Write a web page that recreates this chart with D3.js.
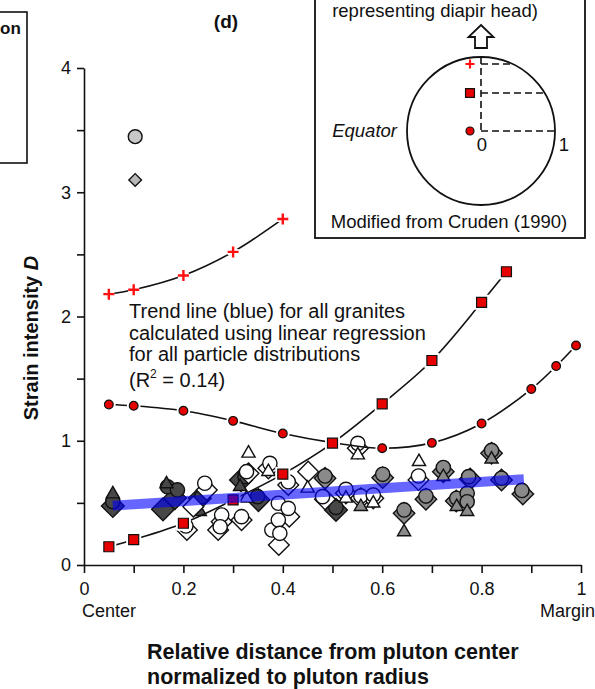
<!DOCTYPE html>
<html>
<head>
<meta charset="utf-8">
<script src="https://cdn.jsdelivr.net/npm/d3@7"></script>
<style>
  html, body { margin: 0; padding: 0; background: #fff; }
  svg { display: block; font-family: "Liberation Sans", Arial, sans-serif; }
</style>
</head>
<body>
<svg id="chart" width="595" height="689"></svg>
<script>
// ---- Model curves (Cruden 1990 diapir model), strain intensity D vs distance ----
const plusX   = [0.05, 0.1, 0.2, 0.3, 0.4];
const plusY   = [2.18, 2.215, 2.33, 2.52, 2.785];
const squareX = [0.05, 0.1, 0.2, 0.3, 0.4, 0.5, 0.6, 0.7, 0.8, 0.85];
const squareY = [0.147, 0.204, 0.336, 0.524, 0.731, 0.981, 1.297, 1.646, 2.114, 2.36];
const dotX    = [0.05, 0.1, 0.2, 0.3, 0.4, 0.5, 0.6, 0.7, 0.8, 0.9, 0.95, 0.99];
const dotY    = [1.292, 1.281, 1.241, 1.16, 1.058, 0.985, 0.94, 0.983, 1.139, 1.416, 1.601, 1.767];

// ---- Measured granite samples: [distance, D] ----
const darkDiamonds = [[0.058,0.475],[0.159,0.448],[0.183,0.539],[0.233,0.537],[0.316,0.684],[0.351,0.523],[0.507,0.443]];
const darkCircles  = [[0.058,0.51],[0.168,0.63],[0.188,0.604],[0.237,0.55],[0.324,0.711],[0.349,0.55],[0.507,0.464]];
const darkTriangles= [[0.058,0.571],[0.166,0.652],[0.233,0.429],[0.314,0.63]];

const openDiamonds = [[0.207,0.282],[0.22,0.469],[0.247,0.604],[0.27,0.282],[0.277,0.349],[0.317,0.362],
  [0.331,0.738],[0.371,0.778],[0.392,0.161],[0.413,0.389],[0.411,0.644],[0.451,0.751],[0.485,0.529],
  [0.527,0.577],[0.551,0.939],[0.557,0.537],[0.582,0.537],[0.673,0.684]];
const openCircles  = [[0.205,0.314],[0.243,0.658],[0.277,0.402],[0.274,0.308],[0.317,0.389],[0.327,0.751],
  [0.374,0.818],[0.378,0.282],[0.391,0.497],[0.411,0.456],[0.391,0.362],[0.394,0.255],[0.411,0.67],
  [0.48,0.55],[0.527,0.609],[0.551,0.979],[0.557,0.555],[0.582,0.563],[0.673,0.716]];
const openTriangles= [[0.331,0.899],[0.327,0.537],[0.371,0.751],[0.45,0.617],[0.527,0.537],[0.551,0.885],
  [0.582,0.497],[0.674,0.831]];

const greyDiamonds = [[0.485,0.698],[0.601,0.703],[0.644,0.416],[0.688,0.529],[0.723,0.751],[0.749,0.515],
  [0.777,0.692],[0.82,0.899],[0.84,0.684],[0.883,0.571]];
const greyCircles  = [[0.485,0.716],[0.601,0.73],[0.644,0.443],[0.688,0.555],[0.723,0.785],[0.75,0.537],
  [0.774,0.711],[0.771,0.577],[0.771,0.509],[0.82,0.922],[0.84,0.698],[0.881,0.6]];
const greyTriangles= [[0.557,0.469],[0.644,0.266],[0.723,0.711],[0.75,0.469],[0.771,0.429],[0.82,0.851]];

const lightCircles  = [[0.103,3.447]];
const lightDiamonds = [[0.103,3.099]];

// ---- Linear regression trend for all granites ----
const trendRange = [0.058, 0.885];
const trendIntercept = 0.463;
const trendSlope = 0.257;

// ---- Axis ticks ----
const xTicks = [0, 0.1, 0.2, 0.3, 0.4, 0.5, 0.6, 0.7, 0.8, 0.9, 1];
const xTickLabels = ["0", "", "0.2", "", "0.4", "", "0.6", "", "0.8", "", "1"];
const yTicks = [0, 0.5, 1, 1.5, 2, 2.5, 3, 3.5, 4];
const yTickLabels = ["0", "", "1", "", "2", "", "3", "", "4"];

const annotationLines = ["Trend line (blue) for all granites",
  "calculated using linear regression",
  "for all particle distributions"];

const svg = d3.select("#chart");
const x = d3.scaleLinear().domain([0, 1]).range([84, 581]);
const y = d3.scaleLinear().domain([0, 4]).range([565, 68]);

// ---- Axes ----
const xAxis = svg.append("g").attr("transform", `translate(0,${y(0)})`)
  .call(d3.axisBottom(x).tickValues(xTicks).tickSize(8).tickSizeOuter(0).tickPadding(9)
    .tickFormat((d, i) => xTickLabels[i]));
const yAxis = svg.append("g").attr("transform", `translate(${x(0)},0)`)
  .call(d3.axisLeft(y).tickValues(yTicks).tickSize(7).tickSizeOuter(0).tickPadding(6)
    .tickFormat((d, i) => yTickLabels[i]));
[xAxis, yAxis].forEach(g => {
  g.selectAll("path, line").attr("stroke", "#111").attr("stroke-width", 1.6);
  g.selectAll("text").attr("fill", "#111").attr("font-size", 18)
    .attr("font-family", "Liberation Sans, Arial, sans-serif");
});

// ---- Symbols ----
function drawSet(data, kind, fill, opts = {}) {
  const g = svg.append("g");
  let path;
  if (kind === "diamond") path = d3.symbol().type(d3.symbolSquare).size(opts.size || 240)();
  else if (kind === "circle") path = d3.symbol().type(d3.symbolCircle).size(opts.size || 160)();
  else if (kind === "triangle") path = d3.symbol().type(d3.symbolTriangle).size(opts.size || 75)();
  g.selectAll("path").data(data).join("path")
    .attr("d", path)
    .attr("transform", d => `translate(${x(d[0])},${y(d[1])})` + (kind === "diamond" ? " rotate(45)" : ""))
    .attr("fill", fill).attr("stroke", "#111").attr("stroke-width", 1.4);
}

drawSet(darkDiamonds, "diamond", "#474747", {size: 260});
drawSet(darkCircles, "circle", "#474747");
drawSet(darkTriangles, "triangle", "#474747");
drawSet(openDiamonds, "diamond", "#ffffff", {size: 215});
drawSet(openCircles, "circle", "#ffffff");
drawSet(openTriangles, "triangle", "#ffffff");
drawSet(greyDiamonds, "diamond", "#8a8a8a", {size: 230});
drawSet(greyCircles, "circle", "#8a8a8a");
drawSet(greyTriangles, "triangle", "#8a8a8a");
drawSet(lightDiamonds, "diamond", "#b8b8b8", {size: 80});
drawSet(lightCircles, "circle", "#c8c8c8", {size: 150});

// ---- Model curves ----
const curve = d3.line().x(d => x(d[0])).y(d => y(d[1])).curve(d3.curveCatmullRom.alpha(0.5));
[[plusX, plusY], [squareX, squareY], [dotX, dotY]].forEach(([xs, ys]) => {
  svg.append("path").attr("d", curve(xs.map((v, i) => [v, ys[i]])))
    .attr("fill", "none").attr("stroke", "#111").attr("stroke-width", 1.6);
});

const plusPath = "M-5.5,0H5.5M0,-5.5V5.5";
function redMarkers(xs, ys, type, size) {
  const pts = xs.map((v, i) => [v, ys[i]]);
  const isPlus = type === "plus";
  const p = isPlus ? plusPath : d3.symbol().type(type).size(size)();
  const g = svg.append("g");
  // white halo separating markers from the curve
  g.selectAll("path.halo").data(pts).join("path").attr("class", "halo")
    .attr("d", p).attr("transform", d => `translate(${x(d[0])},${y(d[1])})`)
    .attr("fill", "#fff").attr("stroke", "#fff").attr("stroke-width", isPlus ? 6 : 5);
  g.selectAll("path.mk").data(pts).join("path").attr("class", "mk")
    .attr("d", p).attr("transform", d => `translate(${x(d[0])},${y(d[1])})`)
    .attr("fill", isPlus ? "none" : "#e60000")
    .attr("stroke", isPlus ? "#ff1010" : "#111")
    .attr("stroke-width", isPlus ? 2.4 : 1.2);
}
redMarkers(dotX, dotY, d3.symbolCircle, 60);
redMarkers(squareX, squareY, d3.symbolSquare, 100);
redMarkers(plusX, plusY, "plus");

// ---- Regression trend line ----
svg.append("line")
  .attr("x1", x(trendRange[0])).attr("y1", y(trendIntercept + trendSlope * trendRange[0]))
  .attr("x2", x(trendRange[1])).attr("y2", y(trendIntercept + trendSlope * trendRange[1]))
  .attr("stroke", "#0000ff").attr("stroke-opacity", 0.6).attr("stroke-width", 10);

// ---- Text ----
const ann = svg.append("text").attr("x", 129).attr("y", 318).attr("font-size", 20).attr("fill", "#111");
annotationLines.forEach((t, i) => ann.append("tspan").attr("x", 129).attr("dy", i === 0 ? 0 : 21.5).text(t));
const r2 = svg.append("text").attr("x", 129).attr("y", 387).attr("font-size", 20).attr("fill", "#111");
r2.append("tspan").text("(R");
r2.append("tspan").attr("font-size", 12).attr("dy", -9).text("2");
r2.append("tspan").attr("dy", 9).text(" = 0.14)");

svg.append("text").attr("x", 226).attr("y", 28).attr("text-anchor", "middle")
  .attr("font-size", 19).attr("font-weight", "bold").attr("fill", "#111").text("(d)");

svg.append("text").attr("x", 82).attr("y", 617).attr("font-size", 18).attr("fill", "#111").text("Center");
svg.append("text").attr("x", 595).attr("y", 617).attr("text-anchor", "end").attr("font-size", 18).attr("fill", "#111").text("Margin");

const xt = svg.append("text").attr("font-size", 21.5).attr("font-weight", "bold").attr("fill", "#111");
xt.append("tspan").attr("x", 147).attr("y", 659).text("Relative distance from pluton center");
xt.append("tspan").attr("x", 147).attr("y", 684).text("normalized to pluton radius");

const yt = svg.append("text").attr("transform", "translate(38,338) rotate(-90)").attr("text-anchor", "middle")
  .attr("font-size", 20).attr("font-weight", "bold").attr("fill", "#111");
yt.append("tspan").text("Strain intensity ");
yt.append("tspan").attr("font-style", "italic").text("D");

// ---- Partial legend box at the left edge ----
svg.append("rect").attr("x", -10).attr("y", 12).attr("width", 37).attr("height", 151)
  .attr("fill", "none").attr("stroke", "#111").attr("stroke-width", 1.6);
svg.append("text").attr("x", 0).attr("y", 34).attr("font-size", 17)
  .attr("font-weight", "bold").attr("fill", "#111").text("on");

// ---- Inset: diapir model sketch ----
const inset = svg.append("g");
inset.append("rect").attr("x", 315).attr("y", -10).attr("width", 270).attr("height", 248)
  .attr("fill", "#fff").attr("stroke", "#111").attr("stroke-width", 1.8);
inset.append("text").attr("x", 435).attr("y", 17).attr("text-anchor", "middle").attr("font-size", 18.5)
  .attr("fill", "#111").text("representing diapir head)");
const cx = 481, cy = 131, cr = 74;
inset.append("path")
  .attr("d", `M${cx},25 L${cx + 12.5},37 L${cx + 6},37 L${cx + 6},48 L${cx - 6},48 L${cx - 6},37 L${cx - 12.5},37 Z`)
  .attr("fill", "#fff").attr("stroke", "#111").attr("stroke-width", 1.8).attr("stroke-linejoin", "miter");
inset.append("circle").attr("cx", cx).attr("cy", cy).attr("r", cr)
  .attr("fill", "none").attr("stroke", "#111").attr("stroke-width", 1.8);
const dash = "7,4";
inset.append("line").attr("x1", cx).attr("y1", cy - cr).attr("x2", cx).attr("y2", cy)
  .attr("stroke", "#111").attr("stroke-width", 1.6).attr("stroke-dasharray", dash);
[cy - 67, cy - 38, cy].forEach(yy => {
  const half = Math.sqrt(cr * cr - (yy - cy) * (yy - cy));
  inset.append("line").attr("x1", cx).attr("y1", yy).attr("x2", cx + half).attr("y2", yy)
    .attr("stroke", "#111").attr("stroke-width", 1.6).attr("stroke-dasharray", dash);
});
inset.append("path").attr("d", "M-4.5,0H4.5M0,-4.5V4.5")
  .attr("transform", `translate(${cx - 11},${cy - 67})`).attr("fill", "none")
  .attr("stroke", "#ff1010").attr("stroke-width", 2.2);
inset.append("path").attr("d", d3.symbol().type(d3.symbolSquare).size(80)())
  .attr("transform", `translate(${cx - 11},${cy - 38})`).attr("fill", "#e60000").attr("stroke", "#111").attr("stroke-width", 1.2);
inset.append("path").attr("d", d3.symbol().type(d3.symbolCircle).size(50)())
  .attr("transform", `translate(${cx - 11},${cy})`).attr("fill", "#e60000").attr("stroke", "#111").attr("stroke-width", 1.2);
inset.append("text").attr("x", 397).attr("y", 137).attr("text-anchor", "end").attr("font-size", 18.5)
  .attr("font-style", "italic").attr("fill", "#111").text("Equator");
inset.append("text").attr("x", cx + 1).attr("y", 151).attr("text-anchor", "middle").attr("font-size", 18.5)
  .attr("fill", "#111").text("0");
inset.append("text").attr("x", 564).attr("y", 151).attr("text-anchor", "middle").attr("font-size", 18.5)
  .attr("fill", "#111").text("1");
inset.append("text").attr("x", 449).attr("y", 228).attr("text-anchor", "middle").attr("font-size", 18.5)
  .attr("fill", "#111").text("Modified from Cruden (1990)");
</script>
</body>
</html>
